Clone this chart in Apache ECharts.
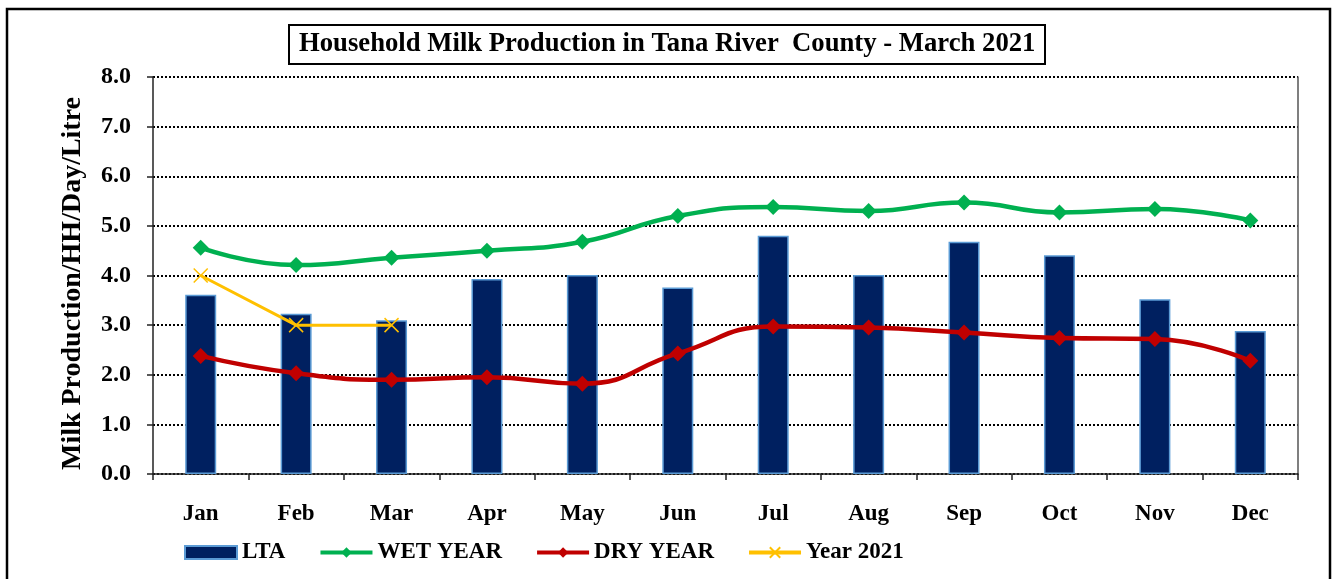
<!DOCTYPE html>
<html>
<head>
<meta charset="utf-8">
<script src="https://cdn.jsdelivr.net/npm/echarts@6/dist/echarts.min.js"></script>
<style>
html,body{margin:0;padding:0;background:#fff;}
#chart{width:1335px;height:579px;}
</style>
</head>
<body>
<div id="chart"></div>
<script>
const months = ['Jan','Feb','Mar','Apr','May','Jun','Jul','Aug','Sep','Oct','Nov','Dec'];
const lta = [3.61, 3.23, 3.10, 3.93, 4.01, 3.76, 4.80, 4.01, 4.68, 4.41, 3.52, 2.88];
const wetYear = [4.56, 4.21, 4.36, 4.50, 4.68, 5.20, 5.38, 5.30, 5.47, 5.27, 5.34, 5.11];
const dryYear = [2.38, 2.03, 1.90, 1.95, 1.82, 2.43, 2.97, 2.95, 2.85, 2.74, 2.72, 2.28];
const year2021 = [4.0, 3.0, 3.0];
const yTicks = { min: 0, max: 8, interval: 1 };
const titleText = 'Household Milk Production in Tana River  County - March 2021';
const yName = 'Milk Production/HH/Day/Litre';

const FONT = '"Liberation Serif", "Times New Roman", serif';
const X_SYMBOL = 'path://M0,0 L10,10 M10,0 L0,10';

const chart = echarts.init(document.getElementById('chart'), null, { renderer: 'canvas' });
chart.setOption({
  animation: false,
  backgroundColor: '#ffffff',
  title: {
    text: titleText,
    left: 289, top: 25,
    padding: [6, 10, 6, 10],
    borderColor: '#000', borderWidth: 2,
    textStyle: { fontFamily: FONT, fontWeight: 'bold', fontSize: 26.7, color: '#000' }
  },
  graphic: [
    { type: 'rect', shape: { x: 7, y: 9, width: 1323, height: 620 }, style: { fill: null, stroke: '#000', lineWidth: 2.5 }, silent: true, z: -1 }
  ],
  grid: { left: 153, right: 37, top: 77, bottom: 105, containLabel: false },
  legend: {
    left: 179, top: 536,
    itemWidth: 52, itemHeight: 13, itemGap: 33,
    lineStyle: { width: 4 },
    textStyle: { fontFamily: FONT, fontWeight: 'bold', fontSize: 23, color: '#000' },
    data: [{ name: 'LTA', icon: 'rect' }, 'WET YEAR', 'DRY YEAR', 'Year 2021']
  },
  xAxis: {
    type: 'category', data: months, boundaryGap: true,
    axisLine: { lineStyle: { color: '#222', width: 1.5 } },
    axisTick: { show: true, length: 6, lineStyle: { color: '#222', width: 1.5 } },
    axisLabel: { margin: 29, fontFamily: FONT, fontWeight: 'bold', fontSize: 23, color: '#000' },
    splitLine: { show: false }
  },
  yAxis: [{
    type: 'value', min: yTicks.min, max: yTicks.max, interval: yTicks.interval,
    name: yName, nameLocation: 'middle', nameGap: 66, nameRotate: 90,
    nameTextStyle: { fontFamily: FONT, fontWeight: 'bold', fontSize: 28, color: '#000', padding: [0, 16, 0, 0] },
    axisLine: { show: true, lineStyle: { color: '#222', width: 1.5 } },
    axisTick: { show: true, length: 6, lineStyle: { color: '#222', width: 1.5 } },
    axisLabel: { margin: 22, fontFamily: FONT, fontWeight: 'bold', fontSize: 24, color: '#000', formatter: v => v.toFixed(1) },
    splitLine: { show: true, lineStyle: { color: '#000', width: 2, type: [2, 2] } }
  }, {
    type: 'value', position: 'right', min: yTicks.min, max: yTicks.max, interval: yTicks.interval,
    axisLine: { show: true, lineStyle: { color: '#555', width: 1.5 } },
    axisTick: { show: false }, axisLabel: { show: false }, splitLine: { show: false }
  }],
  series: [
    {
      name: 'LTA', type: 'bar', data: lta, barWidth: 31,
      itemStyle: { color: '#002060', borderColor: '#5b9bd5', borderWidth: 1.5 },
      z: 2
    },
    {
      name: 'WET YEAR', type: 'line', data: wetYear, smooth: 0.5,
      symbol: 'diamond', symbolSize: 16,
      lineStyle: { color: '#00b050', width: 4.5 },
      itemStyle: { color: '#00b050' }, z: 3
    },
    {
      name: 'DRY YEAR', type: 'line', data: dryYear, smooth: 0.5,
      symbol: 'diamond', symbolSize: 16,
      lineStyle: { color: '#c00000', width: 4.5 },
      itemStyle: { color: '#c00000' }, z: 3
    },
    {
      name: 'Year 2021', type: 'line', data: year2021, smooth: false,
      symbol: X_SYMBOL, symbolSize: 14,
      lineStyle: { color: '#ffc000', width: 3 },
      itemStyle: { color: '#ffc000', borderColor: '#ffc000', borderWidth: 1.5 }, z: 4
    }
  ]
});
</script>
</body>
</html>
